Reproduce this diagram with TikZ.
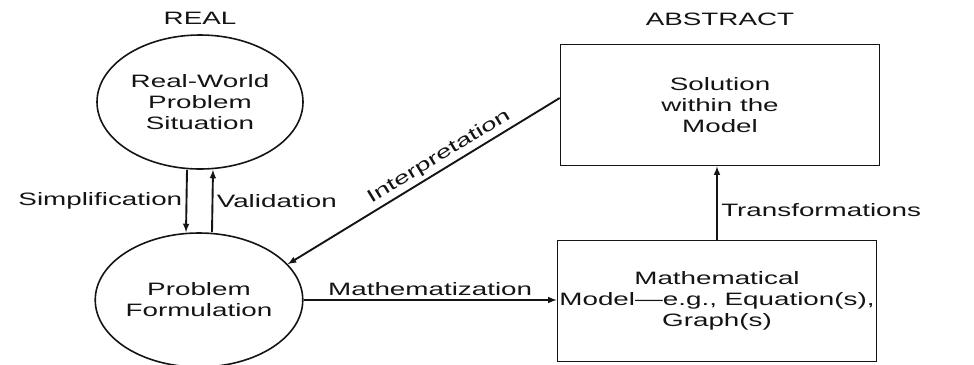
\documentclass[tikz,border=0pt]{standalone}
\usepackage{fontspec}
\setmainfont{Liberation Sans}[FakeStretch=1.55]
\usepackage{tikz}
\usetikzlibrary{positioning,shapes.geometric,arrows,calc}
\definecolor{ink}{HTML}{141414}
\tikzset{
  >=latex,
  every node/.style={font=\fontsize{18}{21}\selectfont, text=ink},
  % --- nodes
  world/.style = {ellipse, draw=ink, line width=1.6pt, align=center, inner sep=0pt,
                  minimum width=206bp, minimum height=134bp},
  mbox/.style  = {draw=ink, line width=1.6pt, align=center, inner sep=0pt,
                  minimum width=319bp, minimum height=121bp},
  lbl/.style   = {inner sep=0pt},
  % --- edges
  e/.style     = {-latex, line width=1.9pt, draw=ink},
}
\begin{document}
\begin{tikzpicture}[x=1bp,y=-1bp]
  \useasboundingbox (0,0) rectangle (974,364);
  \node[world] (real) at (200,102) {Real-World\\Problem\\Situation};
  \node[world] (form) at (199,300) {Problem\\Formulation};
  \node[mbox] (sol) at (720,105) {Solution\\within the\\Model};
  \node[mbox] (model) at (717,301) {Mathematical\\Model---e.g.,\ Equation(s),\\Graph(s)};
  \node[lbl, above=10bp of real] (realhd) {REAL};
  \node[lbl, above=18bp of sol] (abshd) {ABSTRACT};
  % --- connectors
  \draw[e] ([xshift=-13bp]real.south) -- ([xshift=-13bp]form.north)
    node[midway, left] {Simplification};
  \draw[e] ([xshift=13bp]form.north) -- ([xshift=13bp]real.south)
    node[midway, right] {Validation};
  \draw[e] (model.north) -- (model.north |- sol.south)
    node[pos=0.4, right] {Transformations};
  \draw[e] (form.east) -- (form.east -| model.west)
    node[midway, above] {Mathematization};
  \draw[e] ([yshift=7bp]sol.west) -- (form.22)
    node[pos=0.42, above, sloped] {Interpretation};
\end{tikzpicture}
\end{document}
